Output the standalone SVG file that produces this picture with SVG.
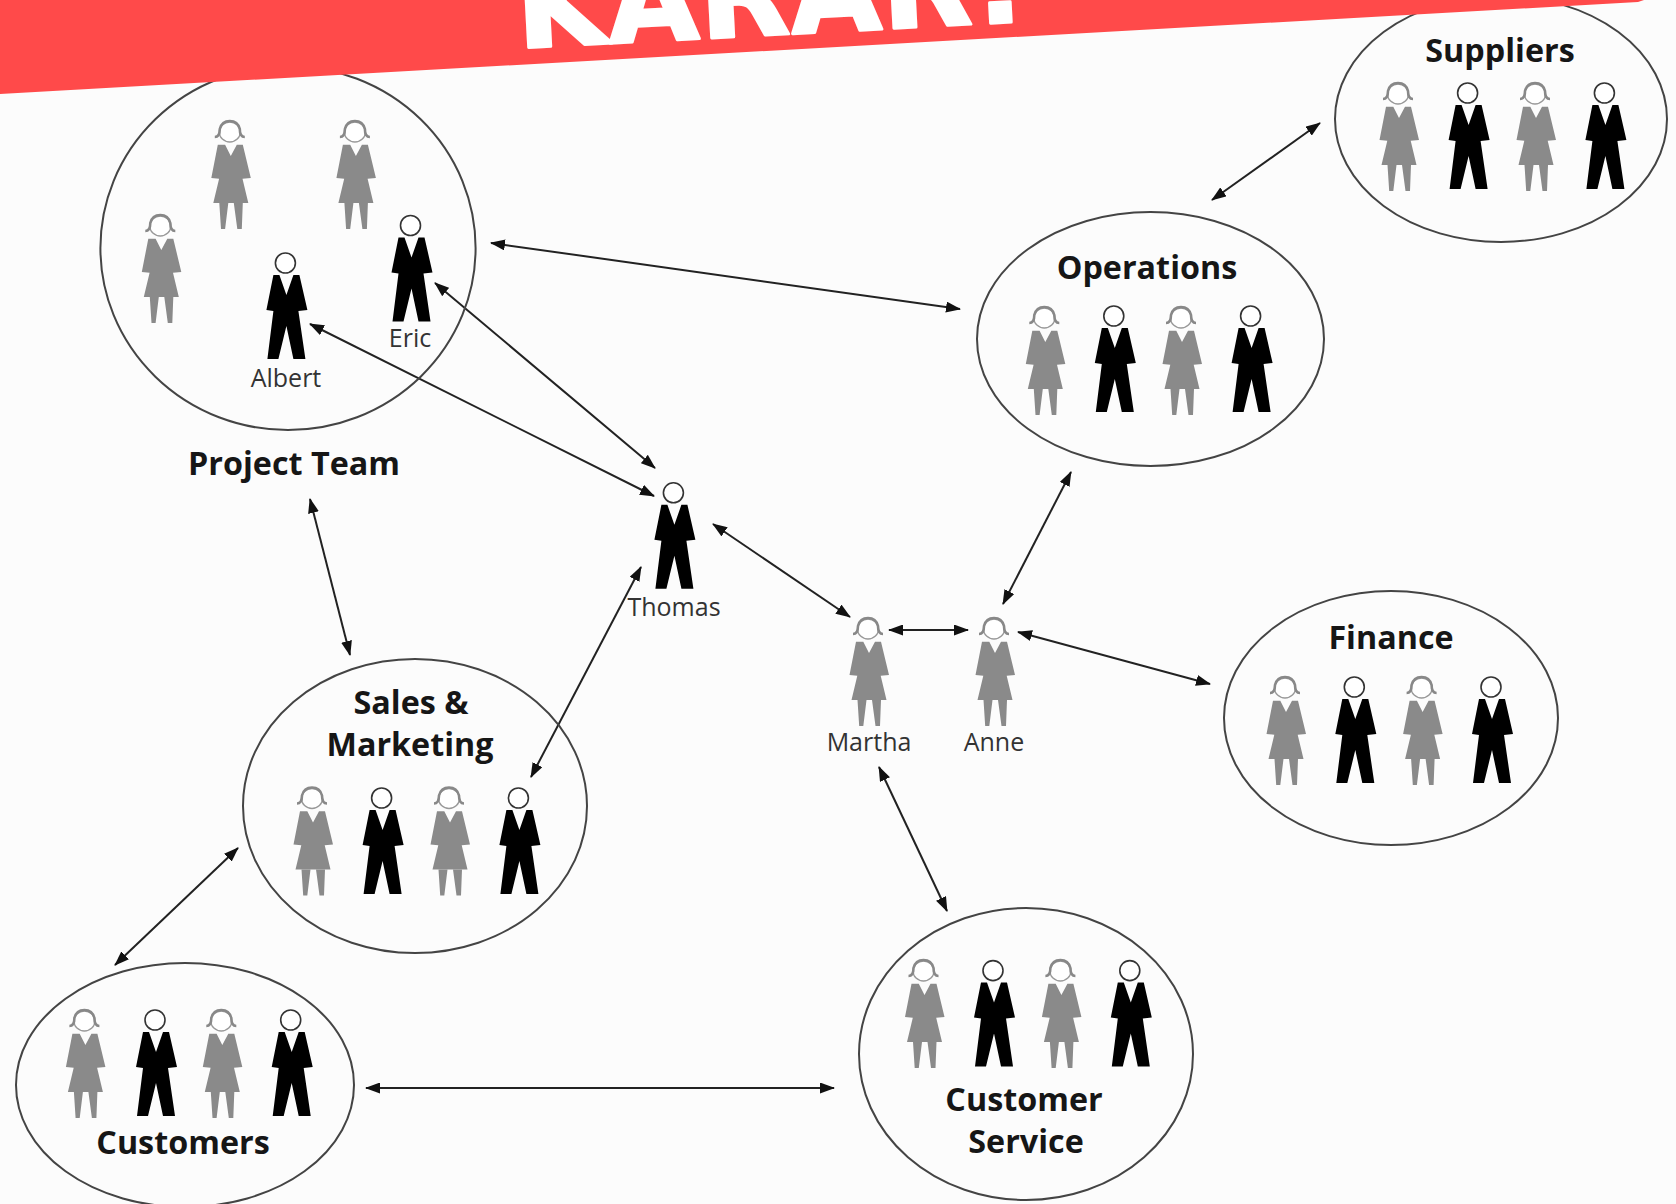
<svg xmlns="http://www.w3.org/2000/svg" width="1676" height="1204" viewBox="0 0 1676 1204">
<style>
.grp{fill:none;stroke:#444;stroke-width:2}
.big{font-family:"Open Sans","Liberation Sans",sans-serif;font-weight:700;font-size:32.3px;fill:#161616;text-anchor:middle}
.small{font-family:"Open Sans","Liberation Sans",sans-serif;font-size:25px;fill:#333;text-anchor:middle}
.conn{fill:none;stroke:#222;stroke-width:2;marker-start:url(#ah);marker-end:url(#ah)}
.banner{font-family:"DejaVu Sans",sans-serif;font-weight:700;font-size:117px;letter-spacing:1px;fill:#fff;stroke:#fff;stroke-width:3;stroke-linejoin:round}
</style>
<defs>
<marker id="ah" viewBox="0 0 15 11" refX="14" refY="5.5" markerWidth="15" markerHeight="11" markerUnits="userSpaceOnUse" orient="auto-start-reverse"><path d="M0 0L15 5.5L0 11Z" fill="#111"/></marker>
<g id="man">
<circle cx="0" cy="0" r="10" fill="#fff" stroke="#333" stroke-width="1.6"/>
<path d="M-12 12L-19 47L-12 48L-18 96L-7 96L1 63L8 96L20 96L13 48L22 47L14 12L8 12L1 32L-6 12Z" fill="#000"/>
</g>
<g id="woman">
<path d="M-12 12.7L-18.5 46L-10.7 46.7L-16.5 71L18.5 71L12.7 46.7L21 46L13 12.7L7 12.7L1 24L-4.7 12.7Z" fill="#8a8a8a"/>
<path d="M-10.5 71L-8.8 97L-4.7 97L-1.5 71ZM4 71L7.5 97L12 97L13 71Z" fill="#8a8a8a"/>
<ellipse cx="0" cy="0" rx="10.5" ry="10" fill="#fff" stroke="#999" stroke-width="1.4"/>
<path d="M-15 5Q-10 5-10-3Q-8-11 0-11Q8-11 10-3Q10 5 15 5" fill="none" stroke="#888" stroke-width="2.6"/>
</g>
</defs>
<rect id="background" width="1676" height="1204" fill="#fcfcfc"/>
<g id="connectors">
<line class="conn" x1="491" y1="243" x2="960" y2="309"/>
<line class="conn" x1="1320" y1="123" x2="1212" y2="200"/>
<line class="conn" x1="435" y1="283" x2="655" y2="468"/>
<line class="conn" x1="310" y1="324" x2="654" y2="496"/>
<line class="conn" x1="713" y1="524" x2="850" y2="617"/>
<line class="conn" x1="889" y1="630" x2="968" y2="630"/>
<line class="conn" x1="1071" y1="472" x2="1003" y2="604"/>
<line class="conn" x1="1018" y1="632" x2="1210" y2="684"/>
<line class="conn" x1="310" y1="499" x2="350" y2="655"/>
<line class="conn" x1="641" y1="567" x2="531" y2="777"/>
<line class="conn" x1="238" y1="848" x2="115" y2="965"/>
<line class="conn" x1="366" y1="1088" x2="834" y2="1088"/>
<line class="conn" x1="879" y1="767" x2="947" y2="911"/>
</g>
<g id="project-team">
<ellipse class="grp" cx="288" cy="248" rx="187.6" ry="182"/>
<use href="#woman" x="229.8" y="132"/><use href="#woman" x="354.9" y="132"/><use href="#woman" x="160.3" y="226"/>
<use href="#man" x="285.4" y="263"/><use href="#man" x="410.5" y="225.5"/>
<text class="small" x="286" y="387">Albert</text><text class="small" x="410" y="347">Eric</text>
<text class="big" x="294" y="475">Project Team</text>
</g>
<g id="suppliers">
<ellipse class="grp" cx="1501" cy="119" rx="166" ry="123"/>
<use href="#woman" x="1398" y="94"/><use href="#man" x="1467.6" y="93"/><use href="#woman" x="1535" y="94"/><use href="#man" x="1604.4" y="93"/>
<text class="big" x="1500" y="62">Suppliers</text>
</g>
<g id="operations">
<ellipse class="grp" cx="1150.5" cy="339" rx="173.5" ry="127"/>
<use href="#woman" x="1044.3" y="318"/><use href="#man" x="1113.8" y="316"/><use href="#woman" x="1181" y="318"/><use href="#man" x="1250.6" y="316"/>
<text class="big" x="1147" y="279">Operations</text>
</g>
<g id="finance">
<ellipse class="grp" cx="1391" cy="718" rx="167" ry="127"/>
<use href="#woman" x="1285" y="688"/><use href="#man" x="1354.3" y="687"/><use href="#woman" x="1421.6" y="688"/><use href="#man" x="1491" y="687"/>
<text class="big" x="1391" y="649">Finance</text>
</g>
<g id="sales-marketing">
<ellipse class="grp" cx="415" cy="806" rx="172" ry="147"/>
<use href="#woman" x="312" y="798.5"/><use href="#man" x="381.6" y="798"/><use href="#woman" x="449" y="798.5"/><use href="#man" x="518.4" y="798"/>
<text class="big" x="411" y="714">Sales &amp;</text><text class="big" x="410" y="756">Marketing</text>
</g>
<g id="customers">
<ellipse class="grp" cx="185" cy="1085" rx="169" ry="122"/>
<use href="#woman" x="84.4" y="1021"/><use href="#man" x="155" y="1020"/><use href="#woman" x="221.3" y="1021"/><use href="#man" x="290.7" y="1020"/>
<text class="big" x="183" y="1154">Customers</text>
</g>
<g id="customer-service">
<ellipse class="grp" cx="1026" cy="1054" rx="167" ry="146"/>
<use href="#woman" x="923.5" y="971"/><use href="#man" x="993" y="970.6"/><use href="#woman" x="1060.4" y="971"/><use href="#man" x="1129.8" y="970.6"/>
<text class="big" x="1024" y="1111">Customer</text><text class="big" x="1026" y="1153">Service</text>
</g>
<g id="thomas"><use href="#man" x="673.4" y="492.8"/><text class="small" x="674" y="616">Thomas</text></g>
<g id="martha"><use href="#woman" x="868" y="629"/><text class="small" x="869" y="751">Martha</text></g>
<g id="anne"><use href="#woman" x="994" y="629"/><text class="small" x="994" y="751">Anne</text></g>
<g id="banner">
<polygon points="0,0 1644,0 1638,2 0,94" fill="#ff4a4a"/>
<text class="banner" transform="translate(518 48) rotate(-3)">KARAR!</text>
</g>
</svg>
